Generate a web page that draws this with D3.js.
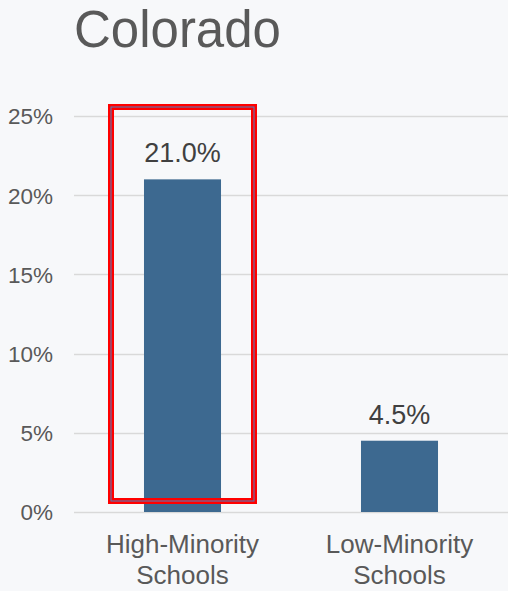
<!DOCTYPE html>
<html>
<head>
<meta charset="utf-8">
<script src="https://cdn.jsdelivr.net/npm/d3@7"></script>
<style>
  html, body { margin: 0; padding: 0; background: #f7f8fa; }
  svg { display: block; }
  text { font-family: "Liberation Sans", Arial, sans-serif; }
</style>
</head>
<body>
<svg id="chart" width="508" height="591"></svg>
<script>
// Chart data
const title = "Colorado";
const categories = ["High-Minority Schools", "Low-Minority Schools"];
const categoryLines = [["High-Minority", "Schools"], ["Low-Minority", "Schools"]];
const values = [21.0, 4.5];
const yTicks = [0, 5, 10, 15, 20, 25];
const highlighted = ["High-Minority Schools"];

const W = 508, H = 591;
const margin = { top: 116, right: 0, bottom: 79, left: 74 };

const svg = d3.select("#chart");

svg.append("rect").attr("width", W).attr("height", H).attr("fill", "#f7f8fa");

// Title
svg.append("text")
  .attr("x", 74).attr("y", 47)
  .attr("font-size", 51)
  .attr("fill", "#595959")
  .text(title);

const x = d3.scaleBand()
  .domain(categories)
  .range([margin.left, W - margin.right])
  .paddingInner(0.645)
  .paddingOuter(0.3225);

const y = d3.scaleLinear()
  .domain([0, 25])
  .range([H - margin.bottom, margin.top]);

// Gridlines
svg.append("g")
  .selectAll("line")
  .data(yTicks)
  .join("line")
  .attr("x1", margin.left).attr("x2", W - margin.right)
  .attr("y1", d => Math.round(y(d)) + 0.5)
  .attr("y2", d => Math.round(y(d)) + 0.5)
  .attr("stroke", "#d9d9d9")
  .attr("stroke-width", 1.5);

// Y axis labels
const yAxis = d3.axisLeft(y)
  .tickValues(yTicks)
  .tickFormat(d => d + "%")
  .tickSize(0)
  .tickPadding(0);
const gy = svg.append("g")
  .attr("transform", `translate(53,0)`)
  .call(yAxis);
gy.select(".domain").remove();
gy.selectAll("text")
  .attr("font-size", 22.5)
  .attr("fill", "#595959")
  .attr("font-family", "Liberation Sans, Arial, sans-serif")
  .attr("dy", "0.35em");

// Bars
svg.append("g")
  .selectAll("rect")
  .data(values)
  .join("rect")
  .attr("x", (d, i) => x(categories[i]))
  .attr("width", x.bandwidth())
  .attr("y", d => y(d))
  .attr("height", d => y(0) - y(d))
  .attr("fill", "#3d6990");

// Value labels
svg.append("g")
  .selectAll("text")
  .data(values)
  .join("text")
  .attr("x", (d, i) => x(categories[i]) + x.bandwidth() / 2)
  .attr("y", d => y(d) - 17)
  .attr("text-anchor", "middle")
  .attr("font-size", 27)
  .attr("fill", "#404040")
  .text(d => d.toFixed(1) + "%");

// Category labels
const cat = svg.append("g")
  .selectAll("text")
  .data(categories)
  .join("text")
  .attr("x", d => x(d) + x.bandwidth() / 2)
  .attr("y", 553)
  .attr("text-anchor", "middle")
  .attr("font-size", 26)
  .attr("fill", "#595959");
cat.selectAll("tspan")
  .data((d, i) => categoryLines[i])
  .join("tspan")
  .attr("x", function () { return d3.select(this.parentNode).attr("x"); })
  .attr("dy", (d, i) => i === 0 ? 0 : 31)
  .text(d => d);

// Highlight frame around the first category
const hl = svg.append("g");
highlighted.forEach(c => {
  const cx = x(c) + x.bandwidth() / 2;
  const halfW = 71.5;
  const x0 = cx - halfW, x1 = cx + halfW;
  const y0 = y(25) - 9, y1 = y(0) - 11;
  hl.append("rect")
    .attr("x", x0).attr("y", y0)
    .attr("width", x1 - x0).attr("height", y1 - y0)
    .attr("fill", "none")
    .attr("stroke", "#ff0000")
    .attr("stroke-width", 6);
  hl.append("rect")
    .attr("x", x0).attr("y", y0)
    .attr("width", x1 - x0).attr("height", y1 - y0)
    .attr("fill", "none")
    .attr("stroke", "#4a86c5")
    .attr("stroke-width", 1);
});
</script>
</body>
</html>
